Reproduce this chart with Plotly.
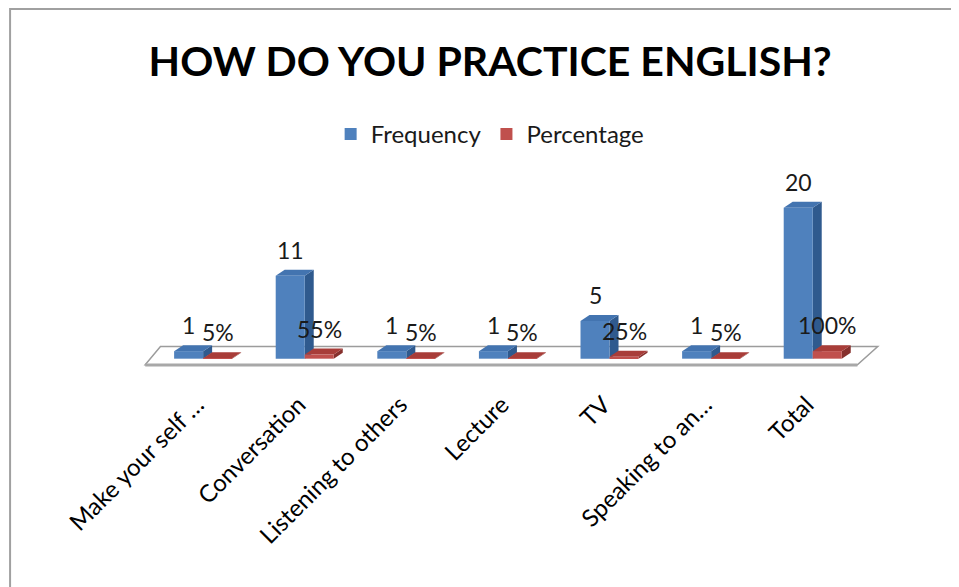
import plotly.graph_objects as go

# ── Data ──────────────────────────────────────────────────────────────────────
categories = ["Make your self …", "Conversation", "Listening to others",
              "Lecture", "TV", "Speaking to an…", "Total"]
frequency = [1, 11, 1, 1, 5, 1, 20]
percentage = [0.05, 0.55, 0.05, 0.05, 0.25, 0.05, 1.00]

# ── Geometry (data units) ─────────────────────────────────────────────────────
BAR_W = 0.2855          # width of one bar front face
DX, DY = 0.0886, 0.79   # fake 3D depth offset
X_RANGE = [-0.7, 6.8]
Y_RANGE = [-1.5, 25]

BLUE = dict(front="#4F81BD", top="#4374B0", side="#2F5A8E")
RED = dict(front="#C0504D", top="#A83D39", side="#86302D")

FONT = "Lato, 'Open Sans', sans-serif"
xs = list(range(len(categories)))

fig = go.Figure()

shapes = []

# floor of the 3D chart
fl, fr = -0.57, len(categories) - 1 + 0.44
shapes.append(dict(
    type="path", xref="x", yref="y", layer="below",
    path=f"M{fl},-0.8 L{fr},-0.8 L{fr + 0.2},1.6 L{fl + 0.15},1.6 Z",
    fillcolor="white", line=dict(color="#9C9C9C", width=1.5),
))
shapes.append(dict(
    type="line", xref="x", yref="y", layer="below",
    x0=fl, x1=fr, y0=-0.85, y1=-0.85,
    line=dict(color="#A8A8A8", width=3),
))


def box_faces(x0, x1, v, col):
    """Top and side faces of a pseudo-3D bar."""
    top = (f"M{x0},{v} L{x1},{v} L{x1 + DX},{v + DY} "
           f"L{x0 + DX},{v + DY} Z")
    side = (f"M{x1},0 L{x1 + DX},{DY} L{x1 + DX},{v + DY} "
            f"L{x1},{v} Z")
    return [
        dict(type="path", xref="x", yref="y", layer="below", path=side,
             fillcolor=col["side"], line=dict(width=0)),
        dict(type="path", xref="x", yref="y", layer="below", path=top,
             fillcolor=col["top"], line=dict(width=0)),
    ]


for i, v in zip(xs, frequency):
    shapes += box_faces(i - BAR_W, i, v, BLUE)
for i, v in zip(xs, percentage):
    shapes += box_faces(i, i + BAR_W, v, RED)

# front faces
fig.add_trace(go.Bar(
    x=xs, y=frequency, name="Frequency", width=BAR_W, offset=-BAR_W,
    marker=dict(color=BLUE["front"], line=dict(width=0)),
))
fig.add_trace(go.Bar(
    x=xs, y=percentage, name="Percentage", width=BAR_W, offset=0,
    marker=dict(color=RED["front"], line=dict(width=0)),
))

# data labels
annotations = []
for i, v in zip(xs, frequency):
    annotations.append(dict(
        x=i - BAR_W / 2, y=v, yshift=26, text=f"{v}",
        showarrow=False, xanchor="center", yanchor="middle",
        font=dict(family=FONT, size=23, color="#1a1a1a"),
    ))
for i, v in zip(xs, percentage):
    annotations.append(dict(
        x=i + BAR_W / 2, y=v, yshift=26, text=f"{v:.0%}",
        showarrow=False, xanchor="center", yanchor="middle",
        font=dict(family=FONT, size=23, color="#1a1a1a"),
    ))

# outer chart frame (runs off the right/bottom edge as in the source image)
shapes.append(dict(
    type="rect", xref="paper", yref="paper", layer="above",
    x0=-0.16, x1=1.2, y0=-1.5, y1=1.805,
    line=dict(color="#A0A0A0", width=2), fillcolor="rgba(0,0,0,0)",
))

# page body has an 8px margin, so the figure is 8px smaller each way
fig.update_layout(
    width=951, height=579,
    margin=dict(l=124, r=65, t=162, b=217, autoexpand=False),
    paper_bgcolor="white", plot_bgcolor="white",
    title=dict(
        text="<b>HOW DO YOU PRACTICE ENGLISH?</b>",
        x=0.507, xref="container", xanchor="center",
        y=0.9067, yref="container", yanchor="middle",
        font=dict(family=FONT, size=41, color="black"),
    ),
    legend=dict(
        orientation="h", x=0.47, xanchor="center", y=1.29, yanchor="top",
        font=dict(family=FONT, size=24, color="#1a1a1a"),
        bgcolor="rgba(0,0,0,0)",
    ),
    showlegend=True,
    shapes=shapes,
    annotations=annotations,
    barmode="overlay",
)

fig.update_xaxes(
    range=X_RANGE, tickmode="array", tickvals=xs, ticktext=categories,
    tickangle=-45, showgrid=False, zeroline=False, showline=False,
    ticks="", ticklabelstandoff=15, ticklabelshift=-6, automargin=False,
    tickfont=dict(family=FONT, size=24, color="black"),
)
fig.update_yaxes(
    range=Y_RANGE, showgrid=False, zeroline=False, showline=False,
    showticklabels=False, ticks="", automargin=False,
)

fig.write_html("out.html")
